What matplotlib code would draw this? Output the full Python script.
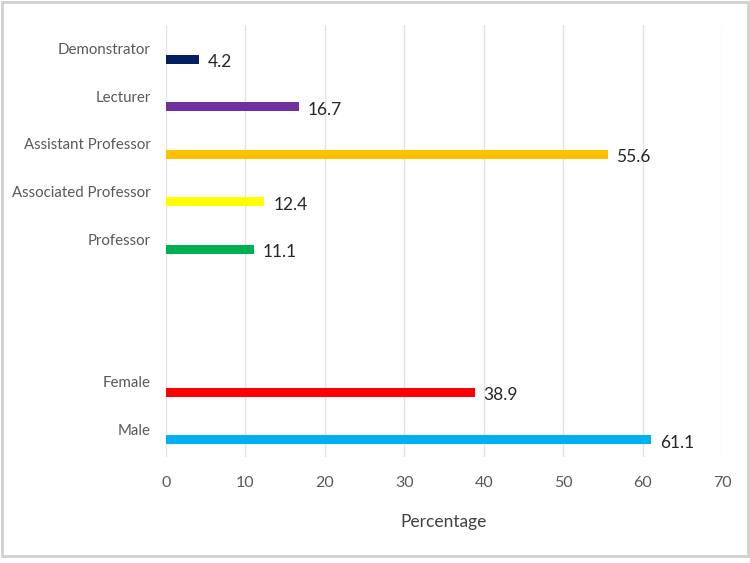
import matplotlib.pyplot as plt
from matplotlib.patches import Rectangle

# categories listed bottom to top, empty slots give the gap between groups
categories = ["Male", "Female", "", "", "Professor", "Associated Professor",
              "Assistant Professor", "Lecturer", "Demonstrator"]
values = [61.1, 38.9, None, None, 11.1, 12.4, 55.6, 16.7, 4.2]
colors = ["#00B0F0", "#FF0000", None, None, "#00B050", "#FFFF00",
          "#FFC000", "#7030A0", "#002060"]
xticks = [0, 10, 20, 30, 40, 50, 60, 70]

plt.rcParams['font.family'] = ['Lato', 'DejaVu Sans']

fig = plt.figure(figsize=(7.5, 5.63), dpi=100)
ax = fig.add_axes([0.2213, 0.1883, 0.7413, 0.7673])

pos = [i for i, v in enumerate(values) if v is not None]
for i in pos:
    ax.barh(i, values[i], height=0.19, color=colors[i], zorder=3)
    # data label right of the bar end, a bit below centre
    ax.text(values[i] + 1.1, i - 0.06, f"{values[i]:.1f}", fontsize=12.5,
            color="#262626", va="center", ha="left", zorder=4)

# category labels sit a bit above each bar
ax.set_yticks([i + 0.22 for i in pos])
ax.set_yticklabels([categories[i] for i in pos], fontsize=10.8, color="#595959")
ax.tick_params(axis="y", length=0, pad=11)

ax.set_xticks(xticks)
ax.set_xticklabels([str(t) for t in xticks], fontsize=11.5, color="#595959")
ax.tick_params(axis="x", length=0, pad=14)

ax.set_xlim(0, 70)
ax.set_ylim(-0.36, 8.72)
ax.grid(axis="x", color="#E3E3E3", linewidth=1.0, zorder=0)
for s in ax.spines.values():
    s.set_visible(False)

ax.set_xlabel("Percentage", fontsize=12.5, color="#404040", labelpad=17)

# light frame around the whole chart
fig.patches.append(Rectangle((0.003, 0.012), 0.994, 0.984, transform=fig.transFigure,
                             fill=False, edgecolor="#D0D0D0", linewidth=2))

plt.savefig("out.png", dpi=100)
